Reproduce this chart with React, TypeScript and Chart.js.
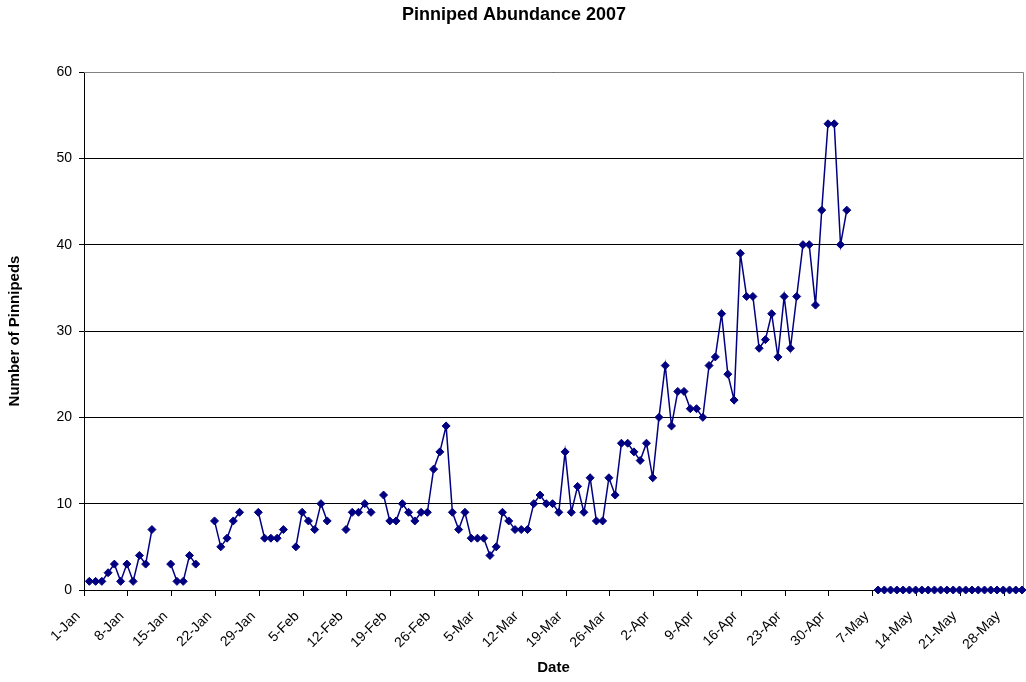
import React, { useEffect, useRef } from 'react';
import { Chart, registerables } from 'chart.js';

Chart.register(...registerables);

// Categories: one per day, 1-Jan to 30-May 2007
const monthNames = ['Jan', 'Feb', 'Mar', 'Apr', 'May'];
const monthDays = [31, 28, 31, 30, 30];

// Daily counts of pinnipeds (null = no survey)
const janCounts = [1, 1, 1, 2, 3, 1, 3, 1, 4, 3, 7, null, null, 3, 1, 1, 4, 3, null, null, 8, 5, 6, 8, 9, null, null, 9, 6, 6, 6];
const febCounts = [7, null, 5, 9, 8, 7, 10, 8, null, null, 7, 9, 9, 10, 9, null, 11, 8, 8, 10, 9, 8, 9, 9, 14, 16, 19, 9];
const marCounts = [7, 9, 6, 6, 6, 4, 5, 9, 8, 7, 7, 7, 10, 11, 10, 10, 9, 16, 9, 12, 9, 13, 8, 8, 13, 11, 17, 17, 16, 15, 17];
const aprCounts = [13, 20, 26, 19, 23, 23, 21, 21, 20, 26, 27, 32, 25, 22, 39, 34, 34, 28, 29, 32, 27, 34, 28, 34, 40, 40, 33, 44, 54, 54];
const mayCounts = [40, 44, null, null, null, null, 0, 0, 0, 0, 0, 0, 0, 0, 0, 0, 0, 0, 0, 0, 0, 0, 0, 0, 0, 0, 0, 0, 0, 0];

const yTicks = [0, 10, 20, 30, 40, 50, 60];
const tickEvery = 7;

const dateLabels: string[] = [];
monthNames.forEach((m, mi) => {
  for (let d = 1; d <= monthDays[mi]; d++) dateLabels.push(`${d}-${m}`);
});
const counts: (number | null)[] = [...janCounts, ...febCounts, ...marCounts, ...aprCounts, ...mayCounts];

const X_SHIFT = 0.85;
const FONT = 'Liberation Sans, Arial, sans-serif';

const plotBorder = {
  id: 'plotBorder',
  beforeDatasetsDraw(chart: any) {
    const { ctx, chartArea } = chart;
    ctx.save();
    ctx.strokeStyle = '#808080';
    ctx.lineWidth = 1;
    ctx.beginPath();
    ctx.moveTo(chartArea.left, Math.round(chartArea.top) + 0.5);
    ctx.lineTo(Math.round(chartArea.right) + 0.5, Math.round(chartArea.top) + 0.5);
    ctx.lineTo(Math.round(chartArea.right) + 0.5, chartArea.bottom);
    ctx.stroke();
    ctx.restore();
  },
};

export default function App() {
  const ref = useRef<HTMLCanvasElement | null>(null);
  useEffect(() => {
    if (!ref.current) return;
    const chart = new Chart(ref.current, {
      type: 'line',
      data: {
        datasets: [
          {
            label: 'Number of Pinnipeds',
            data: counts.map((v, i) => ({ x: i, y: v })) as any,
            borderColor: '#000080',
            backgroundColor: '#000080',
            borderWidth: 1.5,
            pointStyle: 'rectRot',
            pointRadius: 4,
            pointHoverRadius: 4,
            pointBorderWidth: 1,
            pointBackgroundColor: '#000080',
            pointBorderColor: '#000080',
            spanGaps: false,
            tension: 0,
            clip: false as any,
          },
        ],
      },
      plugins: [plotBorder],
      options: {
        animation: false,
        responsive: false,
        layout: { padding: { top: 0, right: 0, bottom: 0, left: 0 } },
        plugins: {
          legend: { display: false },
          tooltip: { enabled: false },
          title: {
            display: true,
            text: 'Pinniped Abundance 2007',
            color: '#000',
            font: { family: FONT, size: 18, weight: 'bold', lineHeight: 1.2 },
            padding: { top: 4, bottom: 46.4 },
          },
        },
        scales: {
          x: {
            type: 'linear',
            min: -X_SHIFT,
            max: dateLabels.length - X_SHIFT,
            afterBuildTicks: (s: any) => {
              const t: any[] = [];
              for (let i = 0; i < dateLabels.length; i += tickEvery) t.push({ value: i - X_SHIFT });
              s.ticks = t;
            },
            ticks: {
              autoSkip: false,
              minRotation: 45,
              maxRotation: 45,
              color: '#000',
              padding: 12,
              labelOffset: -6,
              font: { family: FONT, size: 14 },
              callback: (v: any) => dateLabels[Math.round(Number(v) + X_SHIFT)] ?? '',
            },
            grid: { drawOnChartArea: false, tickLength: 6, color: '#000' },
            border: { color: '#000', width: 1 },
            title: {
              display: true,
              text: 'Date',
              color: '#000',
              font: { family: FONT, size: 15, weight: 'bold', lineHeight: 1.2 },
              padding: { top: 0, bottom: 5 },
            },
            afterFit: (s: any) => {
              s.height = 92;
              s.paddingLeft = 0;
              s.paddingRight = 0;
            },
          },
          y: {
            min: yTicks[0],
            max: yTicks[yTicks.length - 1],
            afterBuildTicks: (s: any) => {
              s.ticks = yTicks.map((v) => ({ value: v }));
            },
            ticks: {
              color: '#000',
              padding: 7,
              font: { family: FONT, size: 14 },
            },
            grid: { color: '#000', tickLength: 5, lineWidth: 1 },
            border: { color: '#000', width: 1 },
            title: {
              display: true,
              text: 'Number of Pinnipeds',
              color: '#000',
              font: { family: FONT, size: 15, weight: 'bold', lineHeight: 1.2 },
              padding: { top: 6, bottom: 0 },
            },
            afterFit: (s: any) => {
              s.width = 84;
              s.paddingTop = 0;
              s.paddingBottom = 0;
            },
          },
        },
      } as any,
    });
    return () => chart.destroy();
  }, []);
  return (
    <div style={{ position: 'absolute', left: 0, top: 0, width: 1026, height: 682, overflow: 'hidden', background: '#fff' }}>
      <canvas ref={ref} width={1028} height={682} style={{ width: 1028, height: 682, display: 'block' }} />
    </div>
  );
}
